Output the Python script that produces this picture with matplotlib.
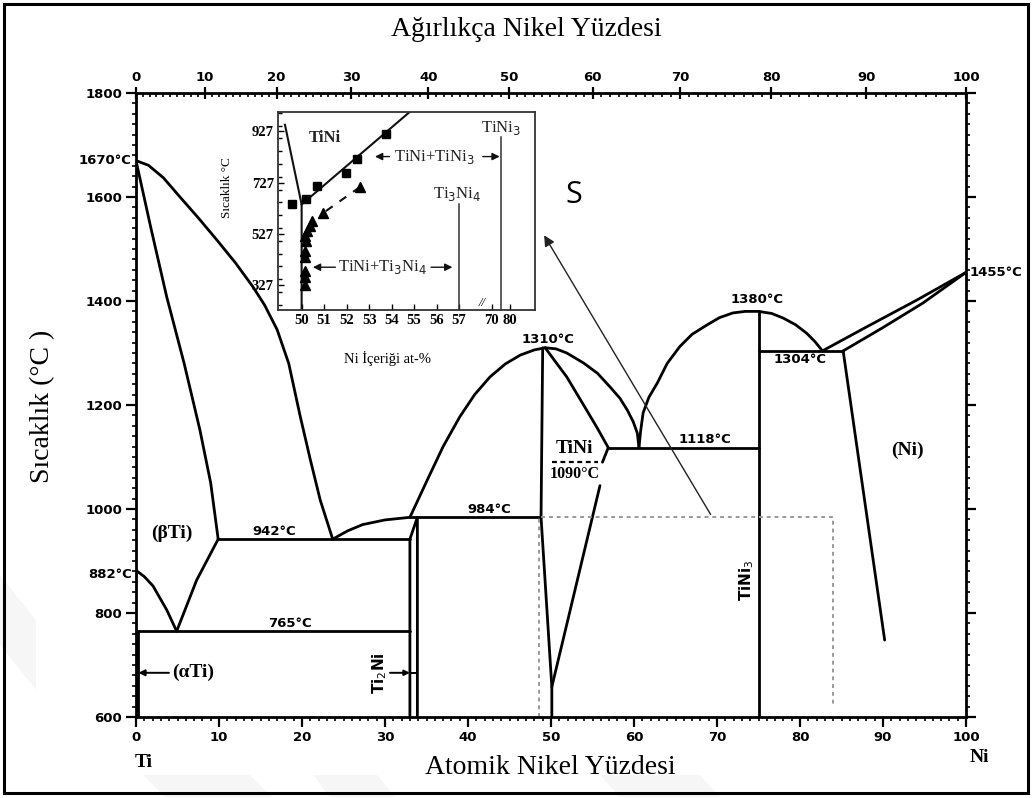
import numpy as np
import matplotlib
matplotlib.use("Agg")
import matplotlib.pyplot as plt
from matplotlib.ticker import FixedLocator, MultipleLocator
from matplotlib.patches import Rectangle, Polygon

# ---------------------------------------------------------------
# Invariant temperatures of the Ti-Ni system (°C)
# ---------------------------------------------------------------
T_MELT_TI = 1670
T_BETA_TI = 882
T_EUT_TI2NI = 942
T_EUTECTOID = 765
T_PERI_TI2NI = 984
T_MAX_TINI = 1310
T_ORDER_TINI = 1090
T_EUT_TINI = 1118
T_MAX_TINI3 = 1380
T_EUT_NI = 1304
T_MELT_NI = 1455

# Compositions (at.% Ni)
X_EUTECTOID = 4.9
X_BETA_MAX = 9.9
X_EUT_TI2NI = 23.7
X_TI2NI_L = 33.0
X_TI2NI_R = 33.9
X_TINI_L = 48.8
X_TINI_PEAK = 49.3
X_TINI_R = 56.9
X_EUT_TINI = 60.6
X_TINI3 = 75.0
X_EUT_NI = 82.7
X_NI_SOL = 85.2

# Phase boundaries (at.% Ni, °C)
liq_ti_x = [0, 1.5, 3.3, 5.3, 7.5, 9.76, 12.0, 14.1, 15.5, 17.0, 18.4, 19.76, 21.0, 22.2,
            X_EUT_TI2NI]
liq_ti_t = [T_MELT_TI, 1661, 1637, 1600, 1560, 1517, 1473, 1427, 1392, 1345, 1280, 1180, 1095,
            1017, T_EUT_TI2NI]

sol_beta_x = [0, 1.8, 3.7, 5.8, 7.7, 9.0, X_BETA_MAX]
sol_beta_t = [T_MELT_TI, 1540, 1408, 1280, 1152, 1050, T_EUT_TI2NI]

transus_x = [0, 1.0, 2.05, 3.7, X_EUTECTOID]
transus_t = [T_BETA_TI, 870, 852, 806, T_EUTECTOID]

solvus_beta_x = [X_EUTECTOID, 7.3, X_BETA_MAX]
solvus_beta_t = [T_EUTECTOID, 863, T_EUT_TI2NI]

liq_ti2ni_x = [X_EUT_TI2NI, 25.5, 27.3, 30.0, X_TI2NI_L]
liq_ti2ni_t = [T_EUT_TI2NI, 958, 970, 979, T_PERI_TI2NI]

liq_tini_l_x = [X_TI2NI_L, 35.1, 37.0, 39.0, 40.8, 42.65, 44.5, 46.3, 48.0, X_TINI_PEAK]
liq_tini_l_t = [T_PERI_TI2NI, 1056, 1120, 1177, 1220, 1254, 1279, 1296, 1306, T_MAX_TINI]

tini_ti_side_x = [49.0, X_TINI_L, 50.1, 50.1]
tini_ti_side_t = [T_MAX_TINI, T_PERI_TI2NI, 658, 600]

sol_tini_r_x = [X_TINI_PEAK, 50.5, 51.9, 53.1, 54.3, 55.6, X_TINI_R]
sol_tini_r_t = [T_MAX_TINI, 1284, 1254, 1222, 1190, 1155, T_EUT_TINI]

solvus_tini_hi_x = [X_TINI_R, 56.2]
solvus_tini_hi_t = [T_EUT_TINI, T_ORDER_TINI]
solvus_tini_lo_x = [55.9, 50.1]
solvus_tini_lo_t = [1045, 658]

liq_tini_r_x = [X_TINI_PEAK, 50.6, 51.9, 53.9, 55.6, 57.1, 58.3, 59.2, 59.9, 60.4, X_EUT_TINI]
liq_tini_r_t = [T_MAX_TINI, 1308, 1300, 1281, 1261, 1235, 1213, 1190, 1168, 1146, T_EUT_TINI]

liq_tini3_x = [X_EUT_TINI, 60.8, 61.1, 61.8, 62.8, 64.0, 65.5, 67.0, 68.8, 70.3, 71.9, 73.4,
               X_TINI3, 76.6, 78.0, 79.5, 80.8, 81.8, X_EUT_NI]
liq_tini3_t = [T_EUT_TINI, 1150, 1185, 1215, 1242, 1280, 1312, 1336, 1354, 1368, 1377, 1380,
               T_MAX_TINI3, 1376, 1367, 1354, 1338, 1322, T_EUT_NI]

liq_ni_x = [X_EUT_NI, 88.0, 94.1, 100]
liq_ni_t = [T_EUT_NI, 1350, 1402, T_MELT_NI]
sol_ni_x = [X_NI_SOL, 90.0, 94.8, 100]
sol_ni_t = [T_EUT_NI, 1349, 1396, T_MELT_NI]
solvus_ni_x = [X_NI_SOL, 90.2]
solvus_ni_t = [T_EUT_NI, 748]

# Region shown enlarged in the inset
zoom_frame_x = [48.6, 48.6, 84.0, 84.0]
zoom_frame_t = [600, 985, 985, 620]

# Inset: measured TiNi solvus points
sq_x = [49.56, 50.19, 50.67, 51.97, 52.44, 53.75]
sq_t = [642, 664, 714, 766, 818, 918]
tri_x = [52.59, 50.96, 50.44, 50.37, 50.25, 50.15, 50.20, 50.15, 50.15, 50.15, 50.15, 50.15]
tri_t = [710, 609, 578, 558, 539, 519, 500, 461, 435, 384, 358, 326]

ins_tini_x = [49.26, 50.0, 50.0]
ins_tini_t = [953, 642, 230]
ins_solvus_x = [50.0, 54.8]
ins_solvus_t = [642, 1003]
X_TI3NI4 = 57.0
T_TI3NI4_TOP = 643
T_TINI3_TOP = 904

inset_xticks = [50, 51, 52, 53, 54, 55, 56, 57, 70, 80]
inset_yticks = [327, 527, 727, 927]

# ---------------------------------------------------------------
M_TI, M_NI = 47.87, 58.69


def at2wt(x):
    x = np.asarray(x, dtype=float)
    return 100.0 * x * M_NI / (x * M_NI + (100.0 - x) * M_TI)


def wt2at(w):
    w = np.asarray(w, dtype=float)
    return 100.0 * (w / M_NI) / (w / M_NI + (100.0 - w) / M_TI)


def brk(v):
    """Inset abscissa with a break between 57 and 70 at.%"""
    v = np.asarray(v, dtype=float)
    return np.where(v <= 57.5, v, 58.45 + (v - 70.0) * 0.08)


W, H = 1033, 798
fig = plt.figure(figsize=(W / 100, H / 100), dpi=100)
fig.patch.set_facecolor("white")


def fpx(pts):
    return [(x / W, 1 - y / H) for x, y in pts]


# faint background marks
for pts in ([(0, 575), (36, 620), (36, 690), (0, 645)],
            [(143, 775), (250, 775), (272, 797), (165, 797)],
            [(313, 775), (377, 775), (395, 797), (330, 797)],
            [(600, 775), (700, 775), (720, 797), (620, 797)]):
    fig.patches.append(Polygon(fpx(pts), closed=True, transform=fig.transFigure,
                               fc="#f6f6f6", ec="none", zorder=0))

# frame round the whole figure
fig.patches.append(Rectangle((4 / W, 5 / H), 1024 / W, 789 / H, transform=fig.transFigure,
                             fill=False, lw=2.2, ec="black", zorder=5))

ax = fig.add_axes([136 / W, 81 / H, 830 / W, 624 / H])
ax.set_xlim(0, 100)
ax.set_ylim(600, 1800)
for s in ax.spines.values():
    s.set_linewidth(2.0)

SANS_B = dict(family="DejaVu Sans", weight="bold")
SERIF = ["Liberation Serif", "DejaVu Serif"]

ax.xaxis.set_major_locator(MultipleLocator(10))
ax.xaxis.set_minor_locator(MultipleLocator(1))
ax.yaxis.set_major_locator(MultipleLocator(200))
ax.yaxis.set_minor_locator(MultipleLocator(20))
ax.tick_params(which="major", direction="out", length=7, width=1.6, labelsize=9.5, pad=3,
               right=True, labelright=False, top=False)
ax.tick_params(which="minor", direction="out", length=3, width=1.2, right=True, top=False)
for lab in ax.get_xticklabels() + ax.get_yticklabels():
    lab.set_fontfamily("DejaVu Sans")
    lab.set_fontweight("bold")

sec = ax.secondary_xaxis("top", functions=(at2wt, wt2at))
sec.set_xticks(list(range(0, 101, 10)))
sec.xaxis.set_minor_locator(FixedLocator(list(range(0, 101, 1))))
sec.tick_params(which="major", direction="inout", length=9, width=1.6, labelsize=9.5, pad=2)
sec.tick_params(which="minor", direction="in", length=3, width=1.2)
for lab in sec.get_xticklabels():
    lab.set_fontfamily("DejaVu Sans")
    lab.set_fontweight("bold")

LW = 2.0
kw = dict(color="black", lw=LW, solid_capstyle="round", solid_joinstyle="round")

ax.plot(liq_ti_x, liq_ti_t, **kw)
ax.plot(sol_beta_x, sol_beta_t, **kw)
ax.plot(transus_x, transus_t, **kw)
ax.plot(solvus_beta_x, solvus_beta_t, **kw)
ax.plot([X_BETA_MAX, X_TI2NI_L], [T_EUT_TI2NI] * 2, **kw)
ax.plot([0, X_TI2NI_L], [T_EUTECTOID] * 2, **kw)
ax.plot([0.3, 0.3], [600, T_EUTECTOID], **kw)
ax.plot(liq_ti2ni_x, liq_ti2ni_t, **kw)
ax.plot([X_TI2NI_L, X_TI2NI_L, X_TI2NI_R, X_TI2NI_R],
        [600, T_EUT_TI2NI, T_PERI_TI2NI, 600], **kw)
ax.plot([X_TI2NI_L, X_TINI_L], [T_PERI_TI2NI] * 2, **kw)
ax.plot(liq_tini_l_x, liq_tini_l_t, **kw)
ax.plot(tini_ti_side_x, tini_ti_side_t, **kw)
ax.plot(sol_tini_r_x, sol_tini_r_t, **kw)
ax.plot(solvus_tini_hi_x, solvus_tini_hi_t, **kw)
ax.plot(solvus_tini_lo_x, solvus_tini_lo_t, **kw)
ax.plot(liq_tini_r_x, liq_tini_r_t, **kw)
ax.plot([X_TINI_R, X_TINI3], [T_EUT_TINI] * 2, **kw)
ax.plot(liq_tini3_x, liq_tini3_t, **kw)
ax.plot([X_TINI3, X_TINI3], [600, T_MAX_TINI3], **kw)
ax.plot([X_TINI3, X_NI_SOL], [T_EUT_NI] * 2, **kw)
ax.plot(liq_ni_x, liq_ni_t, **kw)
ax.plot(sol_ni_x, sol_ni_t, **kw)
ax.plot(solvus_ni_x, solvus_ni_t, **kw)

# B2 ordering temperature of TiNi
ax.plot([50.1, 55.7], [T_ORDER_TINI] * 2, color="black", lw=1.6, ls=(0, (2.2, 1.6)))

# enlarged region marker and pointer towards the inset
ax.plot(zoom_frame_x, zoom_frame_t, color="#9a9a9a", lw=1.4, ls=(0, (2, 2)))
ax.annotate("", xy=(49.0, 1531), xytext=(69.4, 985),
            arrowprops=dict(arrowstyle="-|>", color="#222222", lw=1.0, mutation_scale=16))


def tlabel(x, t, val, **k):
    ax.text(x, t, f"{val}°C", fontsize=9.5, clip_on=False, **SANS_B, **k)


tlabel(-0.5, T_MELT_TI, T_MELT_TI, ha="right", va="center")
tlabel(-0.5, T_BETA_TI - 8, T_BETA_TI, ha="right", va="center")
tlabel(100.4, T_MELT_NI, T_MELT_NI, ha="left", va="center")
tlabel(49.6, T_MAX_TINI + 3, T_MAX_TINI, ha="center", va="bottom")
tlabel(74.8, T_MAX_TINI3 + 10, T_MAX_TINI3, ha="center", va="bottom")
tlabel(80.0, T_EUT_NI - 4, T_EUT_NI, ha="center", va="top")
tlabel(68.6, T_EUT_TINI + 3, T_EUT_TINI, ha="center", va="bottom")
tlabel(42.6, T_PERI_TI2NI + 3, T_PERI_TI2NI, ha="center", va="bottom")
tlabel(16.7, T_EUT_TI2NI + 3, T_EUT_TI2NI, ha="center", va="bottom")
tlabel(18.6, T_EUTECTOID + 3, T_EUTECTOID, ha="center", va="bottom")
ax.text(52.9, T_ORDER_TINI - 7, f"{T_ORDER_TINI}°C", fontsize=11.5, family=SERIF, weight="bold",
        ha="center", va="top")

PH = dict(family=SERIF, weight="bold", fontsize=14)
ax.text(4.3, 954, "(βTi)", ha="center", va="center", **PH)
ax.text(52.8, 1100, "TiNi", ha="center", va="bottom", **PH)
ax.text(92.9, 1113, "(Ni)", ha="center", va="center", **PH)
ax.text(0.9, 512, "Ti", ha="center", va="center", clip_on=False, **PH)
ax.text(101.6, 523, "Ni", ha="center", va="center", clip_on=False, **PH)
ax.annotate("(αTi)", xy=(0.3, 685), xytext=(4.3, 685), ha="left", va="center", **PH,
            arrowprops=dict(arrowstyle="-|>", color="black", lw=1.4, mutation_scale=9,
                            shrinkA=0, shrinkB=0))
ax.text(29.3, 685, "Ti$_2$Ni", rotation=90, ha="center", va="center",
        family="DejaVu Sans", weight="bold", fontsize=11)
ax.annotate("", xy=(X_TI2NI_L, 685), xytext=(30.6, 685),
            arrowprops=dict(arrowstyle="-|>", color="black", lw=1.4, mutation_scale=8,
                            shrinkA=0, shrinkB=0))
ax.plot([X_TI2NI_L, X_TI2NI_R], [685, 685], color="black", lw=1.4)
ax.text(73.6, 863, "TiNi$_3$", rotation=90, ha="center", va="center",
        family="DejaVu Sans", weight="bold", fontsize=11)

ax.text(52.8, 1604, "S", fontsize=22, family="Open Sans", ha="center", va="center")

# axis titles
fig.text(526 / W, 1 - 30 / H, "Ağırlıkça Nikel Yüzdesi", ha="center", va="center",
         family=SERIF, fontsize=20)
fig.text(550 / W, 1 - 768 / H, "Atomik Nikel Yüzdesi", ha="center", va="center",
         family=SERIF, fontsize=20)
fig.text(43 / W, 1 - 406 / H, "Sıcaklık (°C )", ha="center", va="center", rotation=90,
         family=SERIF, fontsize=20)

# ---------------------------------------------------------------
# Inset: TiNi solvus and Ti3Ni4 / TiNi3 precipitation
# ---------------------------------------------------------------
ins = fig.add_axes([278 / W, 1 - 310 / H, 257 / W, 198 / H])
ins.set_xlim(48.95, 60.37)
ins.set_ylim(230, 1003)
for s in ins.spines.values():
    s.set_linewidth(1.3)
    s.set_color("#333333")

ins.set_xticks(brk(inset_xticks))
ins.set_xticklabels([str(v) for v in inset_xticks], family=SERIF, fontsize=10.5, weight="bold")
ins.set_yticks(inset_yticks)
ins.set_yticklabels([str(v) for v in inset_yticks], family=SERIF, fontsize=10.5, weight="bold")
ins.yaxis.set_minor_locator(MultipleLocator(50))
ins.tick_params(which="major", direction="in", length=4, width=1.0, pad=3)
ins.tick_params(which="minor", direction="in", length=3, width=1.0)

ikw = dict(color="#111111", lw=1.5)
ins.plot(ins_tini_x, ins_tini_t, **ikw)
ins.plot(ins_solvus_x, ins_solvus_t, **ikw)
ins.plot([X_TI3NI4, X_TI3NI4], [230, T_TI3NI4_TOP], color="#333333", lw=1.1)
ins.plot([brk(X_TINI3)] * 2, [230, T_TINI3_TOP], color="#333333", lw=1.1)
ins.plot(tri_x[:2], tri_t[:2], color="#111111", lw=1.5, ls=(0, (4, 4)))
ins.plot(sq_x, sq_t, ls="none", marker="s", ms=6, color="black")
ins.plot(tri_x, tri_t, ls="none", marker="^", ms=7.5, color="black")

IT = dict(family=SERIF, fontsize=12, color="#222222")
ins.text(51.04, 902, "TiNi", ha="center", va="center", weight="bold", **IT)
ins.text(55.9, 829, "TiNi+TiNi$_3$", ha="center", va="center", **IT)
ins.text(53.6, 397, "TiNi+Ti$_3$Ni$_4$", ha="center", va="center", **IT)
ins.text(56.9, 681, "Ti$_3$Ni$_4$", ha="center", va="center", **IT)
ins.text(float(brk(X_TINI3)), 941, "TiNi$_3$", ha="center", va="center", **IT)
arw = dict(arrowstyle="-|>", color="#111111", lw=1.0, mutation_scale=11, shrinkA=0, shrinkB=0)
ins.annotate("", xy=(53.26, 829), xytext=(53.9, 829), arrowprops=arw)
ins.annotate("", xy=(float(brk(X_TINI3)) - 0.05, 829), xytext=(58.05, 829), arrowprops=arw)
ins.annotate("", xy=(50.5, 397), xytext=(51.5, 397), arrowprops=arw)
ins.annotate("", xy=(56.7, 397), xytext=(55.75, 397), arrowprops=arw)
ins.text(58.0, 232, "//", ha="center", va="bottom", family=SERIF, fontsize=9, style="italic")

fig.text(227 / W, 1 - 188 / H, "Sıcaklık °C", rotation=90, ha="center", va="center",
         family=SERIF, fontsize=9.5)
fig.text(387 / W, 1 - 359 / H, "Ni İçeriği at-%", ha="center", va="center",
         family=SERIF, fontsize=10.5)

fig.savefig("out.png", dpi=100, facecolor="white")
